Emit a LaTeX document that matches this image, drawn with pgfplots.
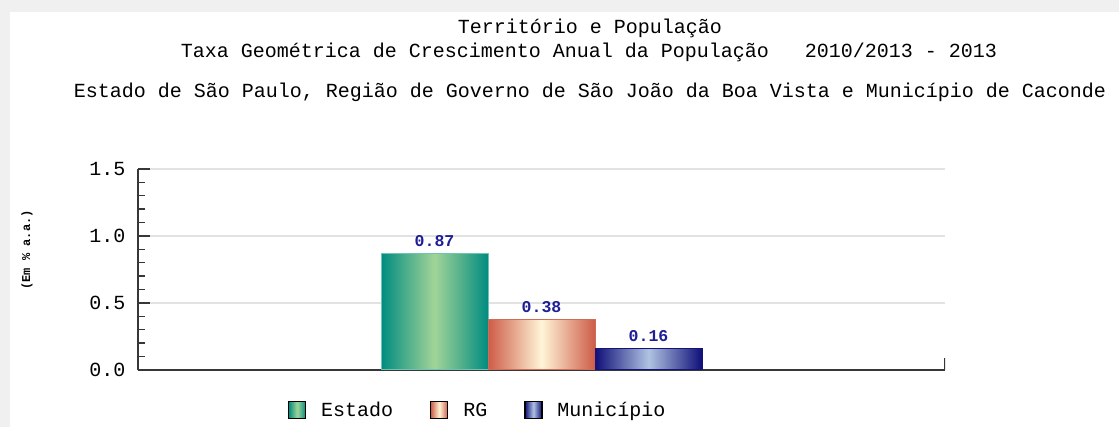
\documentclass[border=0pt]{standalone}
\usepackage{pgfplots}
\pgfplotsset{compat=1.18}
\usepackage{fontspec}
\setmainfont{Liberation Mono}
\setmonofont{Liberation Mono}
\definecolor{estE}{RGB}{0,140,128}
\definecolor{estM}{RGB}{162,212,152}
\definecolor{estB}{RGB}{110,195,180}
\definecolor{rgE}{RGB}{205,92,72}
\definecolor{rgM}{RGB}{255,245,215}
\definecolor{rgB}{RGB}{205,110,90}
\definecolor{muE}{RGB}{15,15,120}
\definecolor{muM}{RGB}{175,195,225}
\definecolor{muB}{RGB}{20,20,120}
\definecolor{valblue}{RGB}{30,30,150}
\definecolor{axcol}{RGB}{55,55,55}
\definecolor{gridcol}{RGB}{226,226,226}
\begin{document}
\begin{tikzpicture}
\path[use as bounding box, fill={rgb,255:red,240;green,240;blue,240}] (0,0) rectangle (1119pt,427pt);
\fill[white] (10pt,0) rectangle (1119pt,415pt);
\node[font=\fontsize{20}{24}\selectfont, anchor=center] at (590pt,399pt) {Território e População};
\node[font=\fontsize{20}{24}\selectfont, anchor=center] at (589pt,375pt) {Taxa Geométrica de Crescimento Anual da População\ \ \ 2010/2013 - 2013};
\node[font=\fontsize{20}{24}\selectfont, anchor=center] at (590pt,335pt) {Estado de São Paulo, Região de Governo de São João da Boa Vista e Município de Caconde};
\node[font=\bfseries\fontsize{12}{14}\selectfont, rotate=90, anchor=center] at (27pt,177pt) {(Em \% a.a.)};
\begin{axis}[
  at={(138pt,57pt)}, anchor=south west,
  scale only axis, width=807pt, height=201pt,
  xmin=-1, xmax=1, ymin=0, ymax=1.5,
  axis x line*=bottom, axis y line*=left,
  axis line style={axcol, line width=1.6pt},
  every tick/.style={axcol, line width=1.4pt},
  tick align=inside,
  major tick length=12pt, minor tick length=7pt,
  xtick=\empty,
  ytick={0,0.5,1,1.5}, minor y tick num=4,
  ytick pos=left,
  ymajorgrids, grid style={gridcol, line width=1.2pt},
  /pgf/number format/assume math mode=true,
  yticklabel={\pgfmathprintnumber[fixed,fixed zerofill,precision=1]{\tick}},
  yticklabel style={font=\fontsize{20}{24}\selectfont, xshift=-9pt},
  ybar=0pt, bar width=107pt,
  nodes near coords={\pgfmathprintnumber[fixed,fixed zerofill,precision=2]{\pgfplotspointmeta}},
  every node near coord/.append style={font=\bfseries\fontsize{16.5}{20}\selectfont, text=valblue, yshift=3pt},
  legend columns=-1,
  legend style={at={(0.421,-0.2)}, anchor=center, draw=none, fill=none,
    font=\fontsize{20}{24}\selectfont,
    /tikz/every even column/.append style={column sep=35pt}},
  legend image code/.code={\path[#1, draw=black, line width=1.2pt] (0pt,-8pt) rectangle (17pt,9pt); \path (30pt,0pt);},
]
\addplot[left color=estE, right color=estE, middle color=estM, draw=estB, line width=1pt] coordinates {(0,0.87)};
\addlegendentry{Estado}
\addplot[left color=rgE, right color=rgE, middle color=rgM, draw=rgB, line width=1pt] coordinates {(0,0.38)};
\addlegendentry{RG}
\addplot[left color=muE, right color=muE, middle color=muM, draw=muB, line width=1pt] coordinates {(0,0.16)};
\addlegendentry{Município}
\draw[axcol, line width=1.4pt] (axis cs:1,0) -- ++(0pt,12pt);
\end{axis}
\end{tikzpicture}
\end{document}
